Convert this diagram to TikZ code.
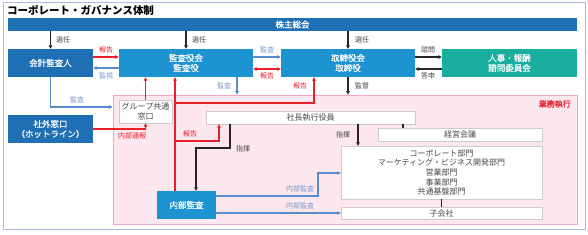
\documentclass[tikz,border=0pt]{standalone}
\usepackage{fontspec}
\setmainfont{Noto Sans CJK JP}
\newfontfamily\medfont[FakeBold=0.8]{Noto Sans CJK JP}
\usetikzlibrary{arrows.meta,calc}
\definecolor{dblue}{RGB}{31,111,181}
\definecolor{lblue}{RGB}{30,147,210}
\definecolor{teal}{RGB}{26,174,158}
\definecolor{pinkf}{RGB}{253,231,239}
\definecolor{pinkb}{RGB}{245,166,196}
\definecolor{redc}{RGB}{232,32,42}
\definecolor{barrow}{RGB}{88,140,205}
\definecolor{framec}{RGB}{170,188,222}
\definecolor{blbl}{RGB}{120,150,205}
\definecolor{txt}{RGB}{70,70,70}
\tikzset{
  cbox/.style={inner sep=0pt, align=center, text=white, font=\medfont\fontsize{8.5}{10}\selectfont},
  dbox/.style={cbox, fill=dblue},
  lbox/.style={cbox, fill=lblue},
  tbox/.style={cbox, fill=teal},
  wbox/.style={inner sep=0pt, align=center, fill=white, draw=black!20, text=txt, font=\fontsize{8}{9.6}\selectfont},
  tip/.style={-{Triangle[length=3.5pt,width=3.5pt]}},
  blk/.style={tip, line width=1.2pt, draw=black!85},
  bline/.style={line width=1.2pt, draw=black!85},
  rarr/.style={tip, line width=1.2pt, draw=redc},
  barr/.style={tip, line width=1.2pt, draw=barrow},
  lbl/.style={font=\fontsize{7}{8}\selectfont, inner sep=0pt},
  klbl/.style={lbl, text=txt},
  rlbl/.style={lbl, text=redc},
  blbl/.style={lbl, text=blbl}
}
\begin{document}
\begin{tikzpicture}[x=1pt,y=-1pt]
\useasboundingbox (0,0) rectangle (588,234);
\fill[white] (0,0) rectangle (588,234);
\draw[framec, line width=1pt] (3,2) rectangle (585,229);
\node[anchor=west, inner sep=0pt, font=\bfseries\fontsize{10.5}{12}\selectfont] (title) at (7,10) {コーポレート・ガバナンス体制};

% execution area
\node[draw=pinkb, fill=pinkf, line width=0.8pt, minimum width=464pt, minimum height=129pt, inner sep=0pt] (exec) at (345,159.5) {};
\node[anchor=north east, inner sep=0pt, text=redc, font=\medfont\fontsize{8}{9}\selectfont] (gyomu) at (571,100) {業務執行};

% top boxes
\node[dbox, minimum width=569pt, minimum height=13pt] (bar) at (292.5,24.5) {株主総会};
\node[dbox, minimum width=85pt, minimum height=28pt] (kaikei) at (50.5,63) {会計監査人};
\node[lbox, minimum width=134pt, minimum height=28pt] (kansa) at (186,63) {監査役会\\監査役};
\node[lbox, minimum width=134pt, minimum height=28pt] (tori) at (348,63) {取締役会\\取締役};
\node[tbox, minimum width=135pt, minimum height=28pt] (jinji) at (509.5,63) {人事・報酬\\諮問委員会};
\node[dbox, minimum width=85pt, minimum height=28pt] (shagai) at (50.5,129) {社外窓口\\（ホットライン）};

% inner boxes
\node[wbox, minimum width=53pt, minimum height=23pt] (group) at (145.5,111.5) {グループ共通\\窓口};
\node[wbox, minimum width=209pt, minimum height=13pt] (shacho) at (310.5,117.5) {社長執行役員};
\node[wbox, minimum width=164pt, minimum height=13pt] (keiei) at (460,134.5) {経営会議};
\node[wbox, minimum width=201pt, minimum height=53pt] (bumon) at (441.5,172.5) {コーポレート部門\\マーケティング・ビジネス開発部門\\営業部門\\事業部門\\共通基盤部門};
\node[wbox, minimum width=201pt, minimum height=12pt] (kogaisha) at (441.5,213) {子会社};
\node[lbox, minimum width=59pt, minimum height=28pt] (naibu) at (186.5,205) {内部監査};

% election arrows
\draw[blk] (kaikei.north |- bar.south) -- (kaikei.north);
\node[klbl] (l1) at (63,40) {選任};
\draw[blk] (kansa.north |- bar.south) -- (kansa.north);
\node[klbl] (l2) at (199,40) {選任};
\draw[blk] (tori.north |- bar.south) -- (tori.north);
\node[klbl] (l3) at (362,40) {選任};

% kaikei <-> kansa
\draw[rarr] ($(kaikei.east)+(0,-6)$) -- ($(kansa.west)+(0,-6)$);
\node[rlbl] (l4) at (106,50) {報告};
\draw[barr] ($(kansa.west)+(0,5)$) -- ($(kaikei.east)+(0,5)$);
\node[blbl] (l5) at (106,76) {監視};

% kansa <-> tori
\draw[barr] ($(kansa.east)+(0,-6)$) -- ($(tori.west)+(0,-6)$);
\node[blbl] (l6) at (267,50) {監査};
\draw[rarr, {Triangle[length=3.5pt,width=3.5pt]}-{Triangle[length=3.5pt,width=3.5pt]}] ($(kansa.east)+(0,6)$) -- ($(tori.west)+(0,6)$);
\node[rlbl] (l7) at (267,76) {報告};

% tori <-> jinji
\draw[blk] ($(tori.east)+(0,-6)$) -- ($(jinji.west)+(0,-6)$);
\node[klbl] (l8) at (428,50) {諮問};
\draw[blk] ($(jinji.west)+(0,6)$) -- ($(tori.east)+(0,6)$);
\node[klbl] (l9) at (428,76) {答申};

% kansa down audit, tori supervision
\coordinate (ka) at ($(kansa.south)+(51,0)$);
\draw[barr] (ka) -- (ka |- exec.north);
\node[blbl] (l10) at (224,86) {監査};
\draw[blk] (tori.south) -- (tori.south |- exec.north);
\node[klbl] (l11) at (362,86) {監督};

% kaikei audit to group
\coordinate (kg) at (50.5,107);
\draw[barr] (kaikei.south) -- (kg) -- (kg -| exec.west);
\node[blbl] (l12) at (77,100) {監査};

% group -> kansa
\draw[rarr] (group.north) -- (group.north |- kansa.south);
% shagai -> group
\draw[rarr] (shagai.east) -- (shagai.east -| group.south) -- (group.south);
\node[rlbl] (l13) at (132,136) {内部通報};

% naibu reports
\coordinate (r1) at ($(naibu.north)+(-11.5,0)$);
\draw[rarr] (r1) -- (r1 |- kansa.south);
\coordinate (rj) at (175,103);
\coordinate (rt) at (314,103);
\draw[rarr] (rj) -- (rt) -- (rt |- tori.south);
\node[rlbl] (l14) at (300,86) {報告};
\coordinate (rj2) at (175,141);
\coordinate (rs) at (219,141);
\draw[rarr] (rj2) -- (rs) -- (rs |- shacho.south);
\node[rlbl] (l15) at (190,134) {報告};

% command lines
\coordinate (c1) at (230,148);
\coordinate (c2) at (196,148);
\draw[blk] (c1 |- shacho.south) -- (c1) -- (c2) -- (c2 |- naibu.north);
\node[klbl] (l16) at (243,149) {指揮};
\coordinate (c3) at (358,140);
\draw[blk] (c3 |- shacho.south) -- (c3 |- bumon.north);
\node[klbl] (l17) at (343,135) {指揮};
\coordinate (c4) at (403,126);
\draw[bline] (c4 |- shacho.south) -- (c4 |- keiei.north);
\draw[bline] (bumon.south) -- (kogaisha.north);

% internal audit
\coordinate (n1) at (318,196);
\coordinate (n2) at (318,173);
\draw[barr] ($(naibu.east)+(0,-9)$) -- (n1) -- (n2) -- (n2 -| bumon.west);
\node[blbl] (l18) at (300,189) {内部監査};
\draw[barr] ($(naibu.east)+(0,8)$) -- (kogaisha.west);
\node[blbl] (l19) at (300,206) {内部監査};
\end{tikzpicture}
\end{document}
